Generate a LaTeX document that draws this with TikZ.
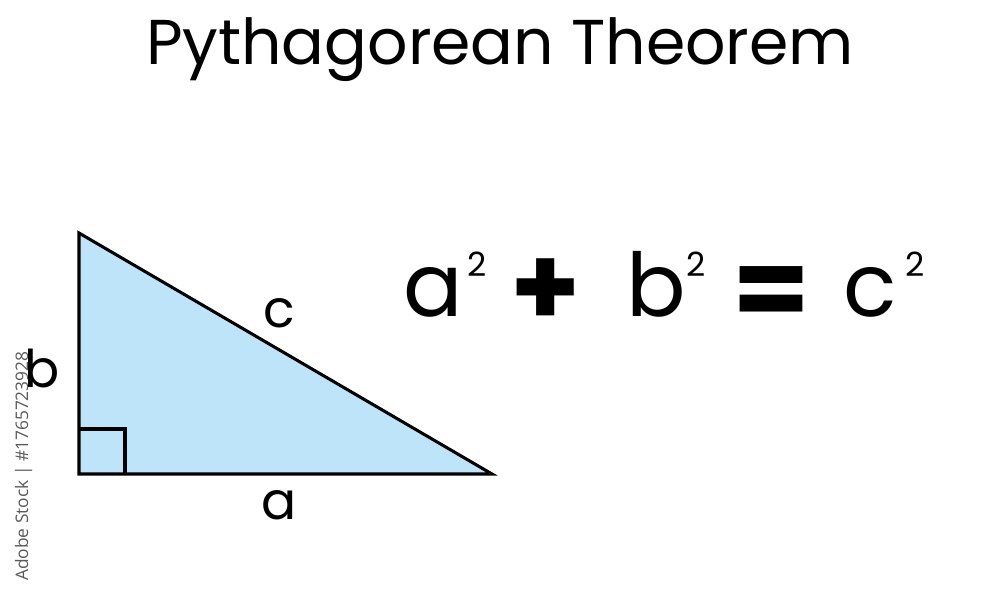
\documentclass[tikz,border=0pt]{standalone}
\usepackage{fontspec}
\setmainfont{Poppins}
\newfontfamily\wmfont{Open Sans}
\definecolor{trifill}{HTML}{BDE4F8}
\definecolor{wmgray}{HTML}{5A5A5A}
\begin{document}
\begin{tikzpicture}[x=0.75pt,y=-0.75pt,
  lbl/.style={inner sep=0pt,font=\fontsize{39}{44}\selectfont},
  eqbig/.style={inner sep=0pt,anchor=base west,font=\fontsize{66}{76}\selectfont},
  eqsup/.style={inner sep=0pt,anchor=base west,font=\fontsize{25}{28}\selectfont},
  eqop/.style={inner sep=0pt,anchor=center,font=\fontsize{84}{90}\selectfont\bfseries}]
\useasboundingbox (0,0) rectangle (1000,600);
\fill[white] (0,0) rectangle (1000,600);
% title
\node[inner sep=0pt,anchor=base,font=\fontsize{47.5}{52}\selectfont] (title) at (500,64) {Pythagorean Theorem};
% triangle
\coordinate (A) at (79,233);
\coordinate (B) at (79,474);
\coordinate (C) at (492,474);
\filldraw[fill=trifill,draw=black,line width=2.3pt,line join=miter] (A) -- (B) -- (C) -- cycle;
\draw[line width=2.3pt] (79,429) -- (125,429) -- (125,474);
% side labels
\node[lbl,anchor=base] (lb) at (42,387) {b};
\node[lbl,anchor=base] (lc) at (279,327) {c};
\node[lbl,anchor=base] (la) at (279,519) {a};
% equation
\node[eqbig] (ea) at (403,316) {a};
\node[eqsup] (ea2) at (467,276) {2};
\node[eqop] (eplus) at (546,293) {+};
\node[eqbig] (eb) at (626,316) {b};
\node[eqsup] (eb2) at (686,276) {2};
\node[eqop] (eeq) at (771,298) {=};
\node[eqbig] (ec) at (843,316) {c};
\node[eqsup] (ec2) at (905,276) {2};
% watermark text
\node[inner sep=0pt,rotate=90,anchor=base west,text=wmgray,font=\wmfont\fontsize{13}{16}\selectfont] (wm) at (28,581) {Adobe Stock | \#1765723928};
\end{tikzpicture}
\end{document}
